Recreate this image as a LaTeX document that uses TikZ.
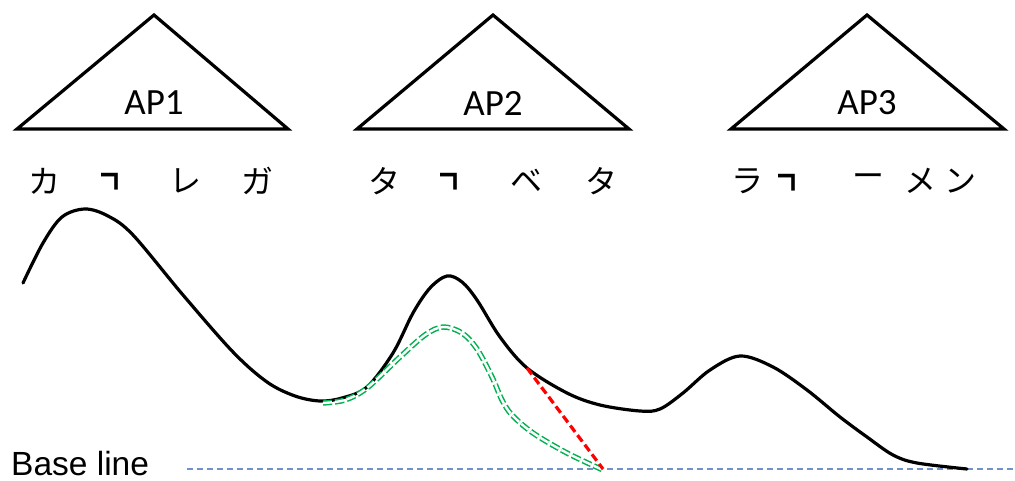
\documentclass[tikz,border=0pt]{standalone}
\usepackage{fontspec}
\newfontfamily\jpfont{Noto Sans CJK JP}
\newfontfamily\calfont{Carlito}
\newfontfamily\arialfont{Liberation Sans}
\definecolor{altgreen}{RGB}{0,176,80}
\definecolor{basecol}{RGB}{112,146,200}
\begin{document}
\begin{tikzpicture}[x=1pt,y=-1pt,
  tri/.style={draw=black,line width=3.2pt,line join=miter},
  aplabel/.style={font=\calfont\fontsize{37}{40}\selectfont,inner sep=0pt},
  kana/.style={font=\jpfont\fontsize{32}{34}\selectfont,inner sep=0pt},
  accent/.style={font=\jpfont\fontsize{30}{32}\selectfont,inner sep=0pt},
  contour/.style={line width=3.2pt,line cap=round,line join=round},
  alt/.style={draw=altgreen,double=white,double distance=2.4pt,line width=1.5pt,dash pattern=on 9pt off 3pt},
  decline/.style={draw=red,line width=3.2pt,dash pattern=on 8pt off 4pt},
  base/.style={draw=basecol,line width=2pt,dash pattern=on 6pt off 4pt}]
\useasboundingbox (0,0) rectangle (1015,481);
% triangles
\draw[tri] (154,15) -- (288,129) -- (17,129) -- cycle;
\draw[tri] (493,15) -- (629,129) -- (357,129) -- cycle;
\draw[tri] (867,15) -- (1004,129) -- (731,129) -- cycle;
\node[aplabel] (ap1) at (154,103) {AP1};
\node[aplabel] (ap2) at (493,103) {AP2};
\node[aplabel] (ap3) at (867,103) {AP3};
% kana
\node[kana] (k1) at (44,181) {カ};
\node[accent] (k2) at (116,182) {┓};
\node[kana] (k3) at (185,181) {レ};
\node[kana] (k4) at (257,181) {ガ};
\node[kana] (k5) at (384,181) {タ};
\node[accent] (k6) at (455,182) {┓};
\node[kana] (k7) at (526,181) {ベ};
\node[kana] (k8) at (601,181) {タ};
\node[kana] (k9) at (747,181) {ラ};
\node[accent] (k10) at (793,183) {┓};
\node[kana] (k11) at (868,181) {ー};
\node[kana] (k12) at (920,181) {メ};
\node[kana] (k13) at (960,181) {ン};
% baseline
\coordinate (bl0) at (187,469);
\coordinate (bl1) at (1015,469);
\coordinate (foot) at (603,469);
\draw[base] (bl0) -- (bl1);
\node[font=\arialfont\fontsize{33.5}{35}\selectfont,anchor=base west,inner sep=0pt] (bltext) at (11,475) {Base line};
% main contour
\draw[contour] plot[smooth,tension=0.55] coordinates {
 (23,283) (43,243) (62,217) (85,209) (108,216) (133,235) (183,295) (233,352) (267,382)
 (295,396) (320,401) (342,398) (367,387) (393,353) (413,313) (430,288) (447,276)
 (462,282) (477,300) (500,337) (527,368) (567,393) (600,405) (640,411) (660,409)
 (683,393) (710,370) (740,356) (773,367) (807,390) (840,417) (867,437) (893,455)
 (917,463) (967,469)};
% alternative contour
\draw[alt] plot[smooth,tension=0.55] coordinates {
 (323,403) (345,400) (367,388) (400,357) (425,335) (443,327) (462,333) (477,349)
 (492,377) (502,400) (512,415) (533,433) (567,453) (603,470)};
\coordinate (fall) at (527,368);
\draw[decline] (fall) -- (foot);
\end{tikzpicture}
\end{document}
